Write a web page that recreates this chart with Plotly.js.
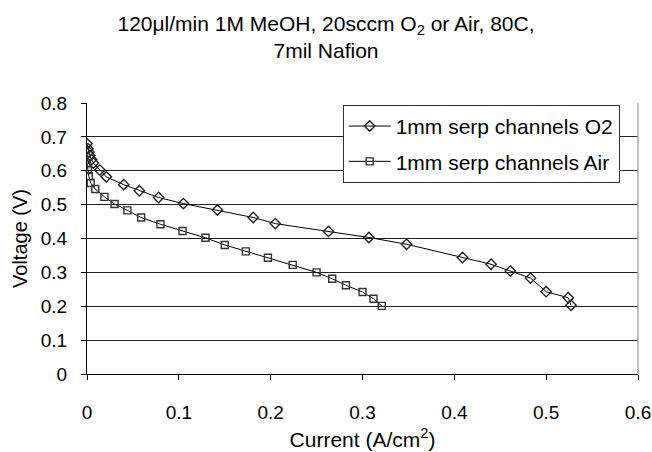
<!DOCTYPE html>
<html>
<head>
<meta charset="utf-8">
<script src="https://cdn.plot.ly/plotly-3.0.1.min.js"></script>
<style>html,body{margin:0;padding:0;background:#fff;}#chart{width:652px;height:452px;}</style>
</head>
<body>
<div id="chart"></div>
<script>
const o2Current = [0.000, 0.001, 0.002, 0.003, 0.005, 0.007, 0.014, 0.021, 0.040, 0.057, 0.078, 0.105, 0.142, 0.181, 0.205, 0.263, 0.307, 0.348, 0.409, 0.440, 0.461, 0.483, 0.500, 0.524, 0.527];
const o2Voltage = [0.680, 0.665, 0.655, 0.645, 0.633, 0.623, 0.602, 0.582, 0.559, 0.541, 0.521, 0.503, 0.484, 0.462, 0.444, 0.421, 0.403, 0.383, 0.344, 0.324, 0.304, 0.283, 0.243, 0.225, 0.203];
const airCurrent = [0.000, 0.001, 0.002, 0.004, 0.009, 0.019, 0.030, 0.044, 0.059, 0.080, 0.104, 0.129, 0.150, 0.173, 0.197, 0.224, 0.250, 0.267, 0.282, 0.300, 0.312, 0.321];
const airVoltage = [0.623, 0.602, 0.584, 0.564, 0.546, 0.523, 0.502, 0.483, 0.462, 0.442, 0.422, 0.402, 0.381, 0.362, 0.343, 0.322, 0.300, 0.281, 0.262, 0.242, 0.222, 0.201];
const seriesNames = ['1mm serp channels O2', '1mm serp channels Air'];
const xTicks = [0, 0.1, 0.2, 0.3, 0.4, 0.5, 0.6];
const yTicks = [0, 0.1, 0.2, 0.3, 0.4, 0.5, 0.6, 0.7, 0.8];

const font = {family: 'Liberation Sans, Arial, sans-serif', color: '#000'};

const traces = [
  {x: o2Current, y: o2Voltage, name: seriesNames[0], legendgroup: 'a', type: 'scatter', mode: 'lines+markers',
   line: {color: '#000', width: 1},
   marker: {symbol: 'diamond-open', size: 8, color: '#222', line: {width: 1.4}}},
  {x: airCurrent, y: airVoltage, name: seriesNames[1], legendgroup: 'b', type: 'scatter', mode: 'lines+markers',
   line: {color: '#000', width: 1},
   marker: {symbol: 'square-open', size: 7, color: '#333', line: {width: 1.4}}}
];

const layout = {
  width: 652, height: 452,
  paper_bgcolor: '#fff', plot_bgcolor: '#fff',
  margin: {l: 87, r: 14, t: 103, b: 78},
  font: Object.assign({size: 18}, font),
  title: {text: '120μl/min 1M MeOH, 20sccm O<sub>2</sub> or Air, 80C,<br>7mil Nafion',
          font: Object.assign({size: 21}, font), x: 0.5, xanchor: 'center',
          yref: 'container', y: 0.932, yanchor: 'middle'},
  xaxis: {range: [0, 0.6], tickvals: xTicks, ticktext: xTicks.map(String), ticks: 'outside', ticklen: 5,
          tickcolor: '#000', showgrid: false, zeroline: false, showline: true, linecolor: '#000', linewidth: 1,
          tickfont: Object.assign({size: 19}, font), ticklabelstandoff: 16,
          title: {text: 'Current (A/cm<sup>2</sup>)', font: Object.assign({size: 21}, font), standoff: 10}},
  yaxis: {range: [0, 0.8], tickvals: yTicks, ticktext: yTicks.map(String), ticks: 'outside', ticklen: 5,
          tickcolor: '#000', showgrid: true, gridcolor: '#222', gridwidth: 1, zeroline: false,
          showline: true, linecolor: '#000', linewidth: 1,
          tickfont: Object.assign({size: 19}, font), ticklabelstandoff: 10,
          title: {text: 'Voltage (V)', font: Object.assign({size: 20}, font), standoff: 7}},
  shapes: [{type: 'line', xref: 'paper', yref: 'paper', x0: 1, x1: 1, y0: 0, y1: 1,
            line: {color: '#aaa', width: 1.5}}],
  showlegend: true,
  legend: {x: 0.464, y: 0.993, xanchor: 'left', yanchor: 'top', bgcolor: '#fff', bordercolor: '#333',
           borderwidth: 1, font: Object.assign({size: 21}, font), itemwidth: 42, tracegroupgap: 5}
};

Plotly.newPlot('chart', traces, layout, {displayModeBar: false, staticPlot: true});
</script>
</body>
</html>
